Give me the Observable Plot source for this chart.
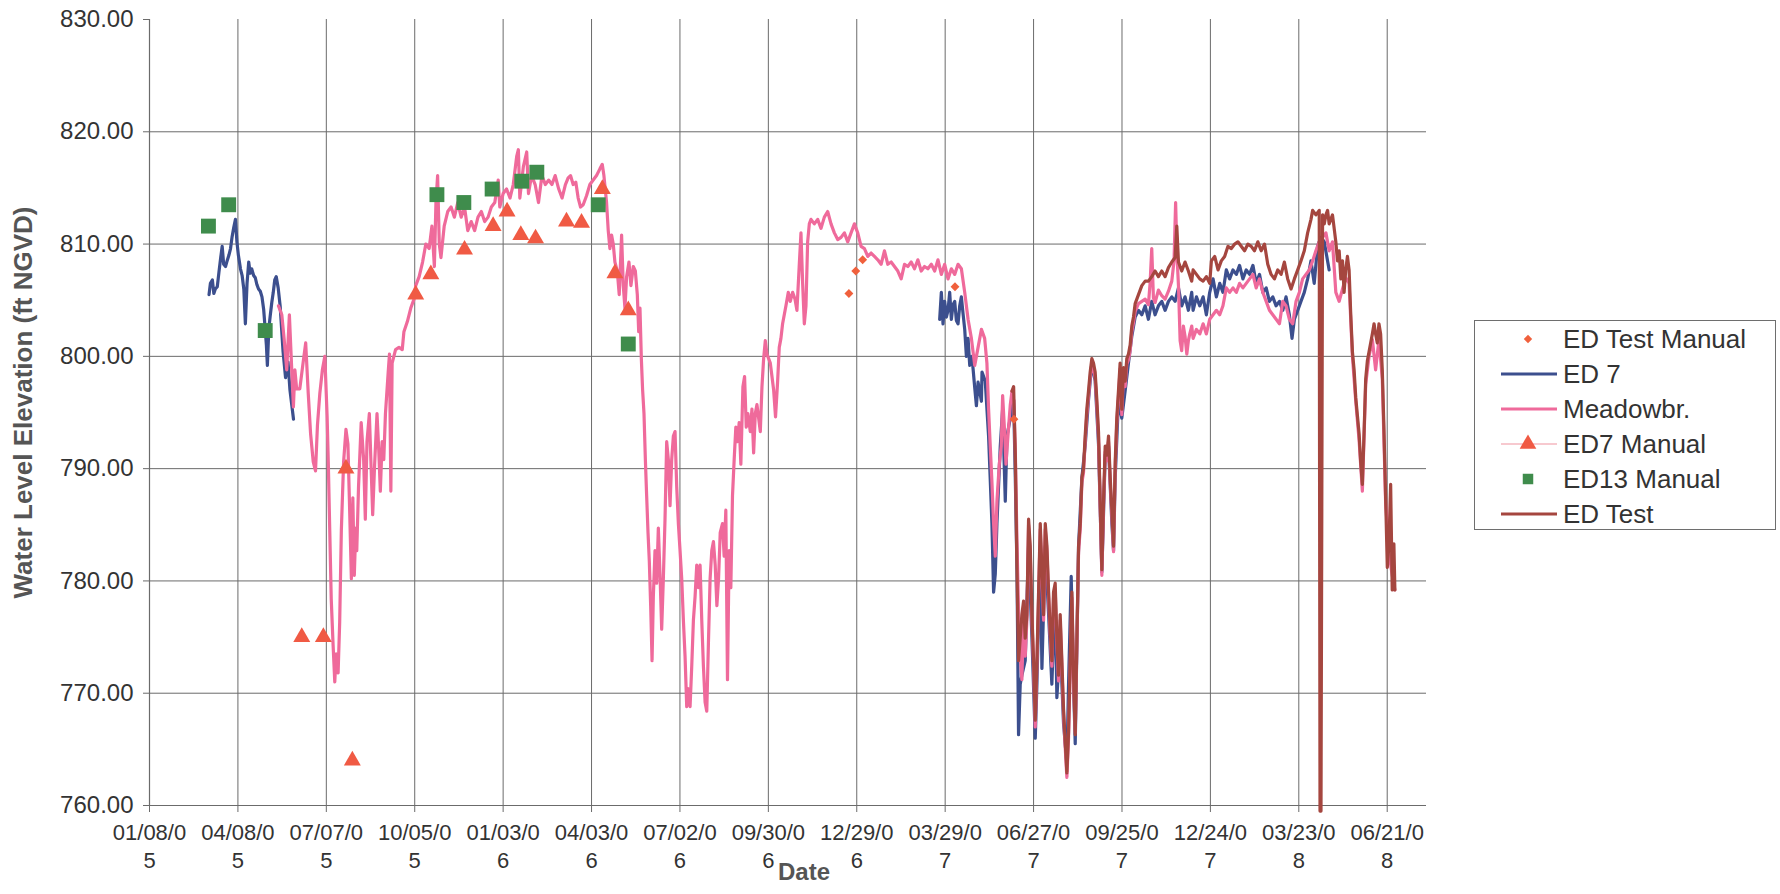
<!DOCTYPE html>
<html>
<head>
<meta charset="utf-8">
<script src="https://cdn.jsdelivr.net/npm/d3@7"></script>
<script src="https://cdn.jsdelivr.net/npm/@observablehq/plot@0.6"></script>
<style>
  html, body { margin: 0; padding: 0; background: #ffffff; }
  #wrap { position: relative; width: 1780px; height: 894px; overflow: hidden; font-family: "Liberation Sans", Arial, sans-serif; }
  #legend { position: absolute; left: 1474px; top: 320px; width: 302px; height: 210px; box-sizing: border-box; border: 1px solid #6e6e6e; background: #fff; }
  .lrow { position: absolute; left: 0; height: 34px; width: 300px; }
  .lrow svg { position: absolute; left: 22px; top: 0; }
  .lrow span { position: absolute; left: 88px; top: 50%; transform: translateY(-50%); font-size: 26px; color: #333; white-space: nowrap; }
</style>
</head>
<body>
<div id="wrap"><div id="legend"></div></div>
<script>
// ---- data (days counted from START, values in ft NGVD) ----
const START = "2005-01-08";
const DOMAIN_END_DAY = 1300;

const yTicks = [760, 770, 780, 790, 800, 810, 820, 830];
const tickDates = ["2005-01-08","2005-04-08","2005-07-07","2005-10-05","2006-01-03","2006-04-03","2006-07-02","2006-09-30","2006-12-29","2007-03-29","2007-06-27","2007-09-25","2007-12-24","2008-03-23","2008-06-21"];
const tickLabels = ["01/08/0\n5","04/08/0\n5","07/07/0\n5","10/05/0\n5","01/03/0\n6","04/03/0\n6","07/02/0\n6","09/30/0\n6","12/29/0\n6","03/29/0\n7","06/27/0\n7","09/25/0\n7","12/24/0\n7","03/23/0\n8","06/21/0\n8"];

const seriesNames = ["ED Test Manual", "ED 7", "Meadowbr.", "ED7 Manual", "ED13 Manual", "ED Test"];

const ed7a = [[60.6,805.5],[62,806.5],[64,806.8],[65.5,805.6],[67,806],[69,806.2],[70.7,807.5],[72.5,808.8],[74,809.8],[75.5,808.2],[77.4,808],[79,808.5],[80.8,809],[82.5,809.6],[84,810.6],[85.8,811.5],[87.5,812.2],[89,810.2],[90.5,809],[92.6,807.8],[94.3,807.2],[96,806],[97.6,802.9],[99.3,806.5],[101,808.4],[102.5,807.4],[104,807.8],[106,807.2],[107.7,807],[109.3,806.4],[111,806],[112.8,805.8],[114.5,805.3],[116.2,804.2],[117.8,802.4],[119,801],[120,799.2],[121.5,802.5],[123,803.7],[124.5,804.8],[126,805.7],[127.5,806.8],[129,807.1],[131,806.1],[133,804.5],[136,800.4],[138.5,798.1],[141,799.5],[143,797],[146.6,794.4]];

const ed7b = [[804.4,803.3],[806.1,805.7],[807.8,802.9],[809.5,804.9],[811.2,803.5],[812.9,804.1],[814.6,805.7],[816.3,803.3],[818,804.6],[819.7,804.9],[821.4,803.2],[823.1,802.9],[824.8,804.5],[826.5,805.3],[828.2,803.8],[829.9,802.4],[831.6,800],[833.3,801.6],[835,799.2],[837.3,800],[840.1,797.2],[841.8,795.6],[843.5,797.7],[846.9,796],[847.5,798.6],[850.8,797.8],[854.2,792.9],[857.6,785.1],[859.3,779],[861,780.6],[862.7,785.1],[866.1,792],[868.5,795.3],[871.2,787.1],[872.9,792.9],[876.3,794.5],[878,795.3],[879.7,796.1],[881.4,789.2],[883.1,781],[884.7,766.3],[886.4,770.8],[888.1,771.6],[891.5,772.9],[894.9,783.1],[898.3,775],[901.7,766],[903.4,770.8],[906.8,783.1],[908.5,772.2],[911.9,783.1],[915.3,777],[918.6,770.8],[922,778.8],[923.7,769.6],[927.1,774.5],[930.5,767.3],[933.9,763.7],[935.6,770.8],[938.3,780.4],[940.7,770.8],[942.4,765.5],[945.8,783.1],[949.2,789.2],[952.5,792],[955.9,796.1],[959.3,799.4],[962.7,797.8],[966.1,792.2],[969.5,780.8],[972.9,791.2],[976.3,792],[979.7,785.1],[981.4,782.7],[983.1,789.2],[986.4,796.1],[989.8,794.5],[993.2,796.9],[996.6,799.4],[1000,801.8],[1003.4,803.5],[1006.8,804.1],[1010.2,803.7],[1013.6,804.5],[1016.9,803.3],[1020.3,804.9],[1023.7,803.7],[1027.1,804.5],[1030.5,804.9],[1033.9,804.1],[1037.3,804.9],[1040.7,805.3],[1044.1,804.9],[1047.5,806.1],[1050.8,804.5],[1054.2,805.3],[1057.6,804.1],[1061,805.7],[1062.4,804.1],[1065.8,805.3],[1069.2,804.5],[1072.6,805.3],[1075.9,803.7],[1079.3,805.7],[1082.7,806.9],[1086.1,805.3],[1089.5,806.5],[1092.8,805.7],[1096.2,807.7],[1099.6,806.9],[1103,807.7],[1106.4,807.3],[1109.7,808.1],[1113.1,806.9],[1116.5,807.7],[1119.9,807.3],[1123.3,808.1],[1126.6,806.5],[1130,807.3],[1133.4,805.7],[1136.8,806.1],[1140.1,804.9],[1143.5,805.3],[1146.9,804.5],[1150.3,804.9],[1153.7,804.1],[1157,805.3],[1160.4,803.7],[1163.1,801.6],[1165.5,803.3],[1168.9,804.1],[1172.2,804.9],[1175.6,805.7],[1179,806.9],[1182.4,808.5],[1185.7,806.5],[1189.1,809.8],[1192.5,810.6],[1195.9,810.2],[1199.3,808.5],[1200.9,807.7]];

const meadowbr = [[131.3,804.5],[134.7,803.7],[137,801.6],[139.7,798.8],[142.4,803.7],[144.8,798.8],[146.5,795.5],[148,798.8],[149.8,797.1],[153,797.1],[156.6,799.6],[159,801.2],[161.6,796.7],[164,793.1],[166.7,790.6],[169,789.8],[171,793.9],[173.4,796.7],[176,798.8],[178.5,800],[180.8,794.7],[182,790.6],[183.5,784.5],[185,778.4],[186.9,774.3],[188.6,771],[190,773.5],[192,771.8],[193.6,776.3],[195.3,784.5],[197.6,790.6],[200,793.5],[202,792.2],[203.7,786.5],[205.5,780.2],[207,787.4],[208.5,780.5],[210,784.7],[211,782.7],[212.8,788.4],[215.5,794.1],[218,790.8],[219.7,785.5],[221.4,792.4],[223.8,794.9],[225.8,789.6],[227.2,785.9],[229.2,790.4],[231.6,794.9],[233.4,791.6],[235,788],[236.8,792.4],[238.5,790.8],[240.2,794.9],[243,798.6],[244.3,800.2],[245.7,788],[247,799.4],[250.5,800.6],[254,800.8],[257.3,800.6],[259,802.2],[262.5,803.1],[266,804.3],[269.3,805.1],[271,806.3],[274.5,807.1],[278,808.4],[281.3,810],[284.7,809.6],[287.5,811.6],[290,808],[291.6,813.7],[293.3,816.1],[295,810],[296.7,808.8],[300,811.6],[303.6,812.9],[307,813.3],[310.4,812.4],[313.8,813.7],[317.3,812.4],[320.7,813.3],[324,811.2],[327.5,812],[331,811.2],[334.4,812.4],[337.8,812.9],[341.2,812],[344.7,812.4],[348,813.3],[351.5,813.7],[355,815.7],[356.6,813.3],[360,814.5],[363.5,814.9],[367,814.1],[370.3,815.3],[373.8,817.8],[375.5,818.4],[377,814.1],[380.6,816.9],[384,818.2],[385.8,814.5],[389,816.1],[392.6,815.3],[396,813.7],[399.5,816.1],[403,815.3],[406.3,815.7],[409.7,815.3],[413,816.1],[416.6,814.9],[420,814.1],[423.4,815.3],[426.2,815.9],[428.6,816.1],[431.3,815.3],[434,815.5],[436.4,814.1],[438.8,813.3],[441.5,813.5],[444.9,814.3],[448.3,815.3],[451.7,815.7],[455.1,816.1],[458.5,816.7],[460.9,817.1],[462.6,816.1],[465.3,813.7],[467,811.2],[468.7,809.6],[470.4,810.8],[472.1,810],[473.8,808.4],[476.2,807.6],[478.2,805.5],[480.6,810.8],[482.3,806.3],[484,804.3],[485.7,807.1],[488.1,808.4],[490.1,806.3],[492.5,808],[494.6,807.6],[496.6,805.5],[498,802.2],[499.3,804.3],[500.7,799.8],[502,797],[503.4,794.9],[504.8,790.8],[506.1,787.6],[507.5,784.3],[508.8,781.8],[510.2,777.8],[511.6,772.9],[512.9,778.6],[514.6,782.7],[516.3,779.8],[518,784.7],[519.7,780.6],[521.4,775.7],[523.1,780.2],[524.8,785.5],[526.5,792.4],[528.2,790.8],[529.9,786.7],[531.6,790.8],[533.3,792.9],[535,793.3],[536.7,788.4],[538.4,785.1],[540.1,782.7],[541.8,780.2],[543.5,776.5],[545.2,773.3],[546.9,768.8],[548.6,770.4],[550.3,768.8],[552,772.4],[553.7,776.5],[555.4,778.6],[557.1,781.4],[558.8,779.4],[560.5,781.4],[562.2,776.5],[563.9,772.4],[565.6,769.2],[567.3,768.4],[569,774.5],[570.7,780.2],[572.4,782.7],[574.1,783.5],[575.9,781.4],[577.6,777.8],[579.3,780.2],[581,784.3],[583.3,785.1],[585,782.2],[586.7,786.3],[588.4,771.2],[590.1,782.7],[591.8,779.4],[593.5,787.6],[595.2,790.8],[596.9,793.7],[598.6,792.4],[600.3,794.1],[602,790.4],[604.1,797.3],[605.8,798.2],[607.5,793.7],[609.2,794.9],[611.6,793.3],[613.3,795.3],[615,791.4],[616.7,794.9],[618.4,795.7],[620.1,794.5],[621.8,793.3],[623.5,797.3],[625.2,799.8],[626.9,801.4],[628.6,800.2],[632,799.4],[635.4,797],[637.3,794.6],[639.4,797.7],[641.1,800.8],[642.8,801.6],[644.5,802.9],[646.2,803.7],[647.9,804.5],[650.3,805.7],[652.3,804.9],[654.7,805.7],[657.1,805.1],[659.1,804.1],[661.5,808.2],[663.2,811],[664.9,806.5],[666.6,802.9],[668.3,804.5],[670,810.2],[671.7,811.8],[673.4,812.2],[676.8,811.8],[680.2,812.2],[683.6,811.4],[687,812.4],[690.4,812.9],[693.8,811.8],[697.2,811],[700.6,810.4],[704,810.6],[707.4,811],[710.8,810.2],[714.2,811],[717.6,811.8],[721,811],[724.4,809.8],[727.8,809.6],[731.2,808.9],[734.6,809.2],[738,808.9],[741.4,808.6],[744.8,808.2],[748.2,809.4],[751.6,808.2],[755,808.4],[758.4,808],[761.8,807.6],[765.2,806.9],[768.6,808.2],[772,808],[775.4,808.4],[778.8,807.8],[782.2,808.6],[785.6,807.6],[789,808],[792.4,807.8],[795.9,808.2],[799.3,807.6],[802.7,808.6],[806.1,807.3],[809.5,808.2],[812.9,806.9],[816.3,807.8],[819.7,807.3],[823.1,808.2],[826.5,807.8],[829.9,805.7],[833.3,803.3],[836.7,801.6],[840.1,799.2],[843.5,800.8],[846.9,802.4],[850.2,801.6],[852.5,799.4],[854.2,795.3],[855.9,792],[857.6,788.8],[859.3,785.1],[861,782.2],[862.7,787.1],[865.1,790.4],[867.1,792],[868.5,796.5],[870.5,793.3],[871.9,790.4],[873.9,792.9],[876.3,795.7],[878,796.9],[879.7,796.1],[881.4,791.6],[883.1,783.5],[884.7,777.3],[886.4,773.3],[888.1,771.2],[889.8,777.3],[891.5,773.3],[893.2,776.5],[894.9,785],[896.6,782.5],[898.3,776.5],[900,772.5],[901.7,767],[903.4,772.5],[905.1,778.5],[906.8,784.6],[908.5,780.5],[910.2,776.5],[911.9,784.6],[913.6,782.6],[915.3,778.5],[916.9,775.2],[918.6,772.4],[920.3,778.5],[922,779.3],[923.7,774.4],[925.4,771.1],[927.1,776.5],[928.8,772.4],[930.5,768.1],[932.2,765.2],[933.9,762.5],[935.6,766],[937.3,772.4],[939,778.5],[940.7,771.1],[942.4,766.5],[944.1,774.4],[945.8,782.6],[947.5,784.6],[949.2,788.8],[950.8,789.6],[952.5,792.4],[954.2,794.8],[955.9,796.4],[957.6,798.1],[959.3,799.3],[961,798.9],[962.7,798.1],[964.4,795.6],[966.1,792.8],[967.8,786.6],[969.5,780.5],[971.2,786.6],[972.9,791.5],[974.6,790.7],[976.3,792.4],[978,788.7],[979.7,785.8],[981.4,782.6],[983.1,790.1],[984.7,794],[986.4,796.4],[988.1,798.9],[989.8,794.8],[991.5,798.5],[993.2,797.3],[994.9,799.3],[996.6,799.7],[998.3,800.5],[1000,802.2],[1001.7,803],[1003.4,804],[1006.8,804.7],[1010.2,804.9],[1013.6,805.1],[1016.9,804.6],[1018.6,806.5],[1020.3,809.6],[1022,805.2],[1023.7,804.8],[1027.1,805.9],[1030.5,805.4],[1033.9,805.1],[1037.3,805.8],[1040.7,806.7],[1043,808.5],[1044.6,813.7],[1046,809],[1047.5,806.3],[1049.2,801.4],[1050.8,800.5],[1052.5,802.7],[1054.2,801.8],[1056,800.2],[1057.6,801.4],[1059,802],[1061,802.7],[1062.4,801.6],[1065.8,802.4],[1069.2,802],[1072.6,802.9],[1075.9,802],[1079.3,803.3],[1082.7,803.7],[1086.1,804.1],[1089.5,803.7],[1092.8,804.5],[1096.2,806.1],[1099.6,805.7],[1103,806.1],[1106.4,805.7],[1109.7,806.5],[1113.1,806.1],[1116.5,806.5],[1119.9,806.9],[1123.3,807.3],[1126.6,806.1],[1130,806.9],[1133.4,805.7],[1136.8,804.9],[1140.1,804.1],[1143.5,803.7],[1146.9,803.3],[1150.3,802.9],[1153.7,804.9],[1157,804.5],[1160.4,803.3],[1163.8,802.9],[1167.2,804.9],[1170.6,805.7],[1173.9,806.9],[1177.3,807.3],[1180.7,807.7],[1184.1,808.5],[1187.4,809.4],[1190.8,810.2],[1194.2,810.6],[1197.6,811],[1200.9,809.4],[1204.3,810.2],[1207.7,805.7],[1211.1,804.9],[1214.5,806],[1217.8,807],[1221.2,806.5],[1224.6,800],[1228,796],[1231.4,792.5],[1234.7,788],[1238.1,797.5],[1241.5,800],[1244.9,801.5],[1248.2,798.8],[1251.6,801.5],[1255,798],[1258.4,787],[1261.8,782.5],[1265.1,780.5],[1267.8,779.2]];

const edTest = [[878,796.9],[879.7,797.3],[881.4,791.2],[883.1,781],[884.7,772.9],[886.4,774.9],[888.1,777],[889.8,778.2],[891.5,774.9],[893.2,777],[894.9,785.5],[896.6,783.1],[898.3,777],[900,772.9],[901.7,767.6],[903.4,772.9],[905.1,779],[906.8,785.1],[908.5,781],[910.2,777],[911.9,785.1],[913.6,783.1],[915.3,779],[916.9,775.7],[918.6,772.9],[920.3,779],[922,779.8],[923.7,774.9],[925.4,771.6],[927.1,777],[928.8,772.9],[930.5,768.6],[932.2,765.7],[933.9,762.9],[935.6,766.5],[937.3,772.9],[939,779],[940.7,771.6],[942.4,766.3],[944.1,774.9],[945.8,783.1],[947.5,785.1],[949.2,789.2],[950.8,790],[952.5,792.9],[954.2,795.3],[955.9,796.9],[957.6,798.6],[959.3,799.8],[961,799.4],[962.7,798.6],[964.4,796.1],[966.1,793.3],[967.8,787.1],[969.5,781],[971.2,787.1],[972.9,792],[974.6,791.2],[976.3,792.9],[978,789.2],[979.7,786.3],[981.4,783.1],[983.1,790.6],[984.7,794.5],[986.4,796.9],[988.1,799.4],[989.8,795.3],[991.5,799],[993.2,797.8],[994.9,799.8],[996.6,800.2],[998.3,801],[1000,802.7],[1001.7,803.5],[1003.4,804.7],[1006.8,805.5],[1010.2,806.3],[1013.6,806.7],[1016.9,806.7],[1020.3,807.1],[1023.7,807.6],[1027.1,807.1],[1030.5,807.6],[1033.9,807.1],[1037.3,807.9],[1040.7,808.4],[1044.1,808.8],[1045.8,811.6],[1047.5,808.4],[1050.8,807.6],[1054.2,808.4],[1057.6,807.6],[1061,806.7],[1062.4,807.7],[1065.8,807.3],[1069.2,806.9],[1072.6,806.7],[1075.9,807.1],[1079.3,806.5],[1081,808.5],[1084.4,808.9],[1087.8,807.7],[1091.1,808.5],[1094.5,808.9],[1097.9,809.8],[1101.3,809.6],[1104.7,810],[1108,810.2],[1111.4,809.8],[1114.8,809.4],[1118.2,810],[1121.6,809.8],[1124.9,809.4],[1128.3,810.2],[1131.7,809.4],[1135.1,810],[1138.4,808.2],[1141.8,807.3],[1145.2,806.9],[1148.6,807.7],[1152,807.3],[1155.3,808.4],[1158.7,806.9],[1162.1,806],[1165.5,806.9],[1168.9,807.7],[1172.2,808.5],[1175.6,809.4],[1179,811],[1182.4,812.2],[1184.1,813],[1187.4,812.6],[1190.8,813],[1191.6,759.5],[1192.6,759.5],[1194.2,812.6],[1195.9,811.8],[1197.6,812.6],[1199.3,813],[1200.9,811.8],[1202.6,812.2],[1204.3,812.6],[1206,811.4],[1207.7,810.2],[1209.4,808.5],[1211.1,809.4],[1212.8,806.9],[1214.5,808.5],[1216.1,805.7],[1217.8,807.7],[1219.5,808.9],[1221.2,807.7],[1222.9,803.7],[1224.6,800.4],[1226.3,798.8],[1228,796.3],[1229.7,794.7],[1231.4,793.1],[1233,790.6],[1234.7,788.6],[1236.4,793.1],[1238.1,798],[1239.8,799.6],[1241.5,800.4],[1243.2,801.2],[1244.9,802],[1246.6,802.9],[1248.2,802],[1249.9,801.2],[1251.6,802.9],[1253.3,802],[1255,798.8],[1256.7,793.5],[1258.4,787.4],[1260.1,781.2],[1261.8,783.3],[1263.5,788.6],[1265.1,779.2],[1266.8,783.3],[1267.8,779.2]];

const ed7Manual = [[155,775],[177,775],[200,790],[206.5,764],[271,805.5],[286.4,807.3],[320.7,809.5],[349.8,811.6],[364,812.9],[378,810.8],[393,810.5],[424.5,812],[439.8,811.9],[461,814.9],[473.8,807.4],[487.4,804.1]];
const ed13Manual = [[60,811.6],[80.6,813.5],[117.8,802.3],[292.6,814.4],[320,813.7],[348.8,814.9],[379,815.6],[394.3,816.4],[456.8,813.5],[487.4,801.1]];
const edTestManual = [[712,805.6],[719,807.6],[726,808.6],[820,806.2],[880,794.4]];

// ---- colours ----
const C = {
  ed7: "#3c4f8e", meadow: "#ef6a9b", edTest: "#a5463f",
  tri: "#f05a44", sq: "#3f8c4c", dia: "#f0603c", grid: "#6b6b6b", text: "#333333"
};

const start = new Date(START + "T00:00:00Z");
const toDate = d => new Date(start.getTime() + d * 864e5);
const rows = arr => arr.map(([d, v]) => ({date: toDate(d), value: v}));
const ticks = tickDates.map(s => new Date(s + "T00:00:00Z"));
const labelOf = new Map(ticks.map((t, i) => [+t, tickLabels[i]]));
const LW = 3.2;

const chart = Plot.plot({
  width: 1780,
  height: 894,
  marginLeft: 149,
  marginRight: 354,
  marginTop: 19,
  marginBottom: 89,
  style: {fontFamily: "'Liberation Sans', Arial, sans-serif", background: "transparent", overflow: "visible"},
  x: {type: "utc", domain: [start, toDate(DOMAIN_END_DAY)]},
  y: {domain: [760, 830]},
  marks: [
    Plot.gridY(yTicks.filter(v => v > 760 && v < 830), {stroke: C.grid, strokeOpacity: 1, strokeWidth: 1}),
    Plot.gridX(ticks.slice(1), {stroke: C.grid, strokeOpacity: 1, strokeWidth: 1}),
    Plot.ruleX([start], {stroke: C.grid, strokeWidth: 1.2}),
    Plot.ruleY([760], {stroke: C.grid, strokeWidth: 1.2}),
    Plot.axisY(yTicks, {tickSize: 6, tickPadding: 10, stroke: C.grid, fill: C.text, fontSize: 24, tickFormat: d => d.toFixed(2), label: null}),
    Plot.axisX(ticks, {tickSize: 7, tickPadding: 8, stroke: C.grid, fill: C.text, fontSize: 22, lineHeight: 1.25, tickFormat: d => labelOf.get(+d), label: null}),
    Plot.text(["Water Level Elevation (ft NGVD)"], {frameAnchor: "left", textAnchor: "middle", dx: -126, dy: -10, rotate: -90, fontSize: 26, fontWeight: "bold", fill: "#555"}),
    Plot.text(["Date"], {frameAnchor: "bottom", textAnchor: "middle", dx: 16, dy: 74, fontSize: 24, fontWeight: "bold", fill: "#555"}),
    Plot.line(rows(ed7a), {x: "date", y: "value", stroke: C.ed7, strokeWidth: LW}),
    Plot.line(rows(ed7b), {x: "date", y: "value", stroke: C.ed7, strokeWidth: LW}),
    Plot.line(rows(meadowbr), {x: "date", y: "value", stroke: C.meadow, strokeWidth: LW}),
    Plot.line(rows(edTest), {x: "date", y: "value", stroke: C.edTest, strokeWidth: LW}),
    Plot.dot(rows(ed7Manual), {x: "date", y: "value", symbol: "triangle", r: 6.3, fill: C.tri, stroke: "none"}),
    Plot.dot(rows(ed13Manual), {x: "date", y: "value", symbol: "square", r: 8.4, fill: C.sq, stroke: "none"}),
    Plot.dot(rows(edTestManual), {x: "date", y: "value", symbol: "diamond2", r: 4, fill: C.dia, stroke: "none"})
  ]
});
document.getElementById("wrap").prepend(chart);

// ---- legend ----
const legendSpec = [
  {name: seriesNames[0], kind: "sym", symbol: d3.symbolDiamond2, size: 45, color: C.dia},
  {name: seriesNames[1], kind: "line", color: C.ed7},
  {name: seriesNames[2], kind: "line", color: C.meadow},
  {name: seriesNames[3], kind: "symline", symbol: d3.symbolTriangle, size: 120, color: C.tri, lineColor: "#f7c9cf"},
  {name: seriesNames[4], kind: "sym", symbol: d3.symbolSquare, size: 110, color: C.sq},
  {name: seriesNames[5], kind: "line", color: C.edTest}
];
const legend = d3.select("#legend");
legendSpec.forEach((s, i) => {
  const row = legend.append("div").attr("class", "lrow").style("top", (1 + 35 * i) + "px");
  const svg = row.append("svg").attr("width", 62).attr("height", 34);
  if (s.kind === "line" || s.kind === "symline") {
    svg.append("line").attr("x1", 4).attr("x2", 60).attr("y1", 17).attr("y2", 17)
      .attr("stroke", s.lineColor || s.color).attr("stroke-width", s.kind === "line" ? 3 : 2);
  }
  if (s.kind === "sym" || s.kind === "symline") {
    svg.append("path").attr("d", d3.symbol(s.symbol, s.size)()).attr("transform", "translate(31,17)").attr("fill", s.color);
  }
  row.append("span").text(s.name);
});
</script>
</body>
</html>
